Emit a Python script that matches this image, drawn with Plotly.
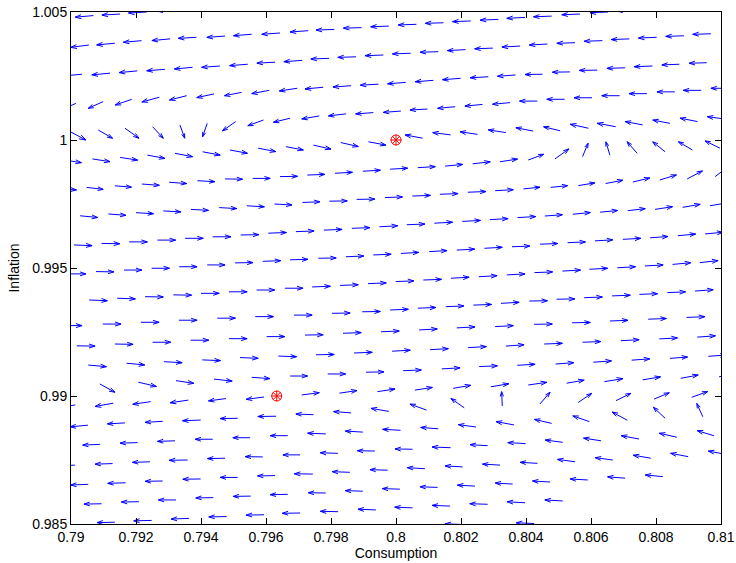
import plotly.graph_objects as go

# ---------------- data ----------------
x_ticks = [0.79, 0.792, 0.794, 0.796, 0.798, 0.8, 0.802, 0.804, 0.806, 0.808, 0.81]
x_tick_labels = ["0.79", "0.792", "0.794", "0.796", "0.798", "0.8", "0.802", "0.804", "0.806", "0.808", "0.81"]
y_ticks = [0.985, 0.99, 0.995, 1.0, 1.005]
y_tick_labels = ["0.985", "0.99", "0.995", "1", "1.005"]

# steady states (red markers)
steady_c = [0.8, 0.79633]
steady_pi = [1.0, 0.99]

# arrow tails: consumption (one inner list per row of arrows)
arrow_c = [
    [0.79069, 0.79151, 0.79233, 0.79320],
    [0.79055, 0.79135, 0.79217, 0.79305, 0.79386, 0.79474, 0.79556, 0.79643, 0.79730, 0.79810, 0.79894, 0.79978, 0.80063, 0.80146, 0.80230, 0.80315, 0.80397, 0.80479, 0.80566, 0.80653, 0.80735],
    [0.79034, 0.79120, 0.79204, 0.79289, 0.79374, 0.79458, 0.79544, 0.79628, 0.79711, 0.79794, 0.79877, 0.79961, 0.80045, 0.80130, 0.80214, 0.80298, 0.80382, 0.80466, 0.80551, 0.80635, 0.80718, 0.80802, 0.80886, 0.80969],
    [0.79015, 0.79099, 0.79187, 0.79272, 0.79356, 0.79440, 0.79525, 0.79610, 0.79696, 0.79776, 0.79862, 0.79946, 0.80030, 0.80115, 0.80199, 0.80284, 0.80368, 0.80451, 0.80535, 0.80619, 0.80705, 0.80789, 0.80872, 0.80956],
    [0.78991, 0.79084, 0.79166, 0.79251, 0.79335, 0.79419, 0.79507, 0.79592, 0.79674, 0.79764, 0.79846, 0.79930, 0.80015, 0.80097, 0.80182, 0.80266, 0.80351, 0.80435, 0.80519, 0.80603, 0.80688, 0.80772, 0.80858, 0.80939, 0.81024],
    [0.78978, 0.79066, 0.79151, 0.79235, 0.79320, 0.79405, 0.79489, 0.79576, 0.79661, 0.79746, 0.79830, 0.79915, 0.80082, 0.80168, 0.80251, 0.80338, 0.80422, 0.80505, 0.80592, 0.80676, 0.80759, 0.80843, 0.80928, 0.81012],
    [0.78963, 0.79048, 0.79135, 0.79218, 0.79302, 0.79389, 0.79474, 0.79559, 0.79643, 0.79727, 0.79812, 0.79898, 0.79982, 0.80067, 0.80151, 0.80236, 0.80320, 0.80407, 0.80489, 0.80574, 0.80658, 0.80742, 0.80828, 0.80912, 0.80997],
    [0.79028, 0.79115, 0.79200, 0.79284, 0.79369, 0.79456, 0.79541, 0.79626, 0.79712, 0.79795, 0.79879, 0.79966, 0.80050, 0.80135, 0.80221, 0.80305, 0.80392, 0.80476, 0.80561, 0.80645, 0.80729, 0.80812, 0.80896, 0.80982],
    [0.79009, 0.79094, 0.79179, 0.79266, 0.79351, 0.79436, 0.79522, 0.79607, 0.79692, 0.79778, 0.79864, 0.79949, 0.80033, 0.80118, 0.80204, 0.80289, 0.80374, 0.80458, 0.80544, 0.80628, 0.80713, 0.80797, 0.80882, 0.80966],
    [0.78991, 0.79077, 0.79163, 0.79248, 0.79333, 0.79419, 0.79505, 0.79590, 0.79674, 0.79761, 0.79846, 0.79930, 0.80015, 0.80102, 0.80187, 0.80272, 0.80357, 0.80443, 0.80528, 0.80612, 0.80698, 0.80782, 0.80867, 0.80951],
    [0.79056, 0.79142, 0.79228, 0.79315, 0.79400, 0.79486, 0.79571, 0.79658, 0.79742, 0.79828, 0.79914, 0.79999, 0.80084, 0.80169, 0.80255, 0.80341, 0.80426, 0.80512, 0.80595, 0.80681, 0.80766, 0.80851, 0.80935],
    [0.78978, 0.79098, 0.79215, 0.79332, 0.79450, 0.79567, 0.79686, 0.79803, 0.79896, 0.79982, 0.80067, 0.80153, 0.80238, 0.80323, 0.80410, 0.80494, 0.80579, 0.80665, 0.80749, 0.80835, 0.80920],
    [0.79018, 0.79135, 0.79251, 0.79368, 0.79486, 0.79602, 0.79720, 0.79837, 0.79954, 0.80071, 0.80187, 0.80305, 0.80425, 0.80542, 0.80658, 0.80776, 0.80894],
    [0.79053, 0.79171, 0.79286, 0.79404, 0.79520, 0.79638, 0.79754, 0.79871, 0.79988, 0.80105, 0.80222, 0.80338, 0.80456, 0.80574, 0.80692, 0.80810, 0.80927],
    [0.79089, 0.79207, 0.79323, 0.79440, 0.79556, 0.79674, 0.79790, 0.79908, 0.80022, 0.80141, 0.80256, 0.80373, 0.80491, 0.80607, 0.80725, 0.80843, 0.80961],
    [0.79013, 0.79130, 0.79245, 0.79361, 0.79477, 0.79594, 0.79710, 0.79826, 0.79943, 0.80058, 0.80176, 0.80292, 0.80407, 0.80525, 0.80641, 0.80759, 0.80876, 0.80994],
    [0.79052, 0.79166, 0.79282, 0.79399, 0.79513, 0.79631, 0.79746, 0.79862, 0.79978, 0.80094, 0.80210, 0.80327, 0.80443, 0.80561, 0.80677, 0.80794, 0.80910],
    [0.79089, 0.79205, 0.79320, 0.79436, 0.79551, 0.79667, 0.79784, 0.79898, 0.80014, 0.80130, 0.80246, 0.80363, 0.80479, 0.80595, 0.80712, 0.80828, 0.80944],
    [0.79012, 0.79128, 0.79243, 0.79359, 0.79474, 0.79590, 0.79705, 0.79821, 0.79935, 0.80051, 0.80168, 0.80282, 0.80399, 0.80513, 0.80631, 0.80748, 0.80864, 0.80978],
    [0.79053, 0.79168, 0.79282, 0.79399, 0.79513, 0.79628, 0.79744, 0.79858, 0.79974, 0.80089, 0.80205, 0.80320, 0.80435, 0.80551, 0.80667, 0.80784, 0.80899, 0.81015],
    [0.79094, 0.79209, 0.79323, 0.79438, 0.79553, 0.79667, 0.79784, 0.79898, 0.80012, 0.80128, 0.80243, 0.80359, 0.80474, 0.80590, 0.80705, 0.80821],
    [0.79135, 0.79248, 0.79363, 0.79479, 0.79594, 0.79705, 0.79822, 0.79938, 0.80051, 0.80166, 0.80282, 0.80397, 0.80513],
    [0.80206, 0.80425],
]

# arrow tails: inflation
arrow_pi = [
    [1.00486, 1.00492, 1.00500, 1.00508],
    [1.00371, 1.00378, 1.00388, 1.00395, 1.00401, 1.00406, 1.00413, 1.00418, 1.00427, 1.00432, 1.00439, 1.00445, 1.00452, 1.00458, 1.00465, 1.00471, 1.00479, 1.00484, 1.00492, 1.00500, 1.00507],
    [1.00257, 1.00261, 1.00270, 1.00276, 1.00284, 1.00289, 1.00296, 1.00304, 1.00311, 1.00319, 1.00325, 1.00332, 1.00339, 1.00345, 1.00353, 1.00359, 1.00367, 1.00375, 1.00380, 1.00388, 1.00395, 1.00401, 1.00407, 1.00415],
    [1.00143, 1.00150, 1.00159, 1.00167, 1.00173, 1.00180, 1.00186, 1.00194, 1.00202, 1.00206, 1.00212, 1.00218, 1.00225, 1.00233, 1.00241, 1.00247, 1.00254, 1.00257, 1.00266, 1.00273, 1.00282, 1.00289, 1.00296, 1.00302],
    [1.00037, 1.00039, 1.00046, 1.00052, 1.00059, 1.00065, 1.00072, 1.00078, 1.00085, 1.00094, 1.00102, 1.00107, 1.00113, 1.00121, 1.00130, 1.00139, 1.00146, 1.00152, 1.00159, 1.00165, 1.00173, 1.00181, 1.00188, 1.00194, 1.00202],
    [0.99922, 0.99926, 0.99932, 0.99941, 0.99948, 0.99954, 0.99961, 0.99968, 0.99974, 0.99980, 0.99990, 0.99993, 1.00007, 1.00020, 1.00022, 1.00029, 1.00035, 1.00036, 1.00046, 1.00052, 1.00059, 1.00065, 1.00072, 1.00082],
    [0.99809, 0.99815, 0.99821, 0.99828, 0.99835, 0.99841, 0.99848, 0.99850, 0.99857, 0.99863, 0.99870, 0.99878, 0.99886, 0.99892, 0.99898, 0.99907, 0.99915, 0.99922, 0.99926, 0.99935, 0.99941, 0.99948, 0.99954, 0.99961, 0.99968],
    [0.99704, 0.99711, 0.99716, 0.99723, 0.99729, 0.99736, 0.99743, 0.99750, 0.99756, 0.99761, 0.99768, 0.99775, 0.99781, 0.99788, 0.99796, 0.99802, 0.99809, 0.99815, 0.99822, 0.99830, 0.99836, 0.99844, 0.99848, 0.99857],
    [0.99590, 0.99596, 0.99602, 0.99609, 0.99616, 0.99622, 0.99629, 0.99636, 0.99642, 0.99648, 0.99655, 0.99661, 0.99669, 0.99675, 0.99682, 0.99689, 0.99697, 0.99703, 0.99710, 0.99718, 0.99724, 0.99729, 0.99737, 0.99743],
    [0.99477, 0.99486, 0.99492, 0.99499, 0.99505, 0.99512, 0.99520, 0.99526, 0.99532, 0.99538, 0.99544, 0.99551, 0.99557, 0.99564, 0.99570, 0.99577, 0.99583, 0.99593, 0.99599, 0.99606, 0.99612, 0.99618, 0.99626, 0.99633],
    [0.99375, 0.99382, 0.99388, 0.99395, 0.99401, 0.99407, 0.99414, 0.99421, 0.99426, 0.99432, 0.99439, 0.99447, 0.99453, 0.99460, 0.99466, 0.99473, 0.99482, 0.99488, 0.99495, 0.99501, 0.99508, 0.99514, 0.99521],
    [0.99275, 0.99281, 0.99288, 0.99296, 0.99304, 0.99310, 0.99316, 0.99323, 0.99329, 0.99336, 0.99343, 0.99349, 0.99355, 0.99362, 0.99371, 0.99378, 0.99384, 0.99391, 0.99397, 0.99404, 0.99410],
    [0.99196, 0.99203, 0.99210, 0.99218, 0.99224, 0.99232, 0.99238, 0.99245, 0.99251, 0.99258, 0.99266, 0.99271, 0.99280, 0.99286, 0.99293, 0.99300, 0.99307],
    [0.99121, 0.99128, 0.99134, 0.99141, 0.99150, 0.99156, 0.99161, 0.99168, 0.99175, 0.99181, 0.99189, 0.99195, 0.99203, 0.99210, 0.99216, 0.99223, 0.99230],
    [0.99047, 0.99054, 0.99060, 0.99066, 0.99073, 0.99078, 0.99086, 0.99093, 0.99099, 0.99106, 0.99115, 0.99120, 0.99125, 0.99132, 0.99140, 0.99147, 0.99155],
    [0.98965, 0.98972, 0.98978, 0.98984, 0.98990, 0.98996, 0.99004, 0.99011, 0.99017, 0.99023, 0.99030, 0.99036, 0.99043, 0.99050, 0.99056, 0.99063, 0.99069, 0.99075],
    [0.98886, 0.98895, 0.98901, 0.98906, 0.98913, 0.98921, 0.98927, 0.98934, 0.98940, 0.98945, 0.98954, 0.98961, 0.98969, 0.98975, 0.98982, 0.98988, 0.98995],
    [0.98811, 0.98818, 0.98825, 0.98831, 0.98837, 0.98845, 0.98852, 0.98859, 0.98866, 0.98872, 0.98879, 0.98887, 0.98893, 0.98900, 0.98905, 0.98913, 0.98919],
    [0.98730, 0.98736, 0.98743, 0.98750, 0.98757, 0.98762, 0.98770, 0.98776, 0.98785, 0.98792, 0.98798, 0.98806, 0.98814, 0.98819, 0.98825, 0.98832, 0.98839, 0.98845],
    [0.98655, 0.98661, 0.98668, 0.98676, 0.98682, 0.98689, 0.98695, 0.98702, 0.98710, 0.98716, 0.98723, 0.98730, 0.98737, 0.98743, 0.98750, 0.98757, 0.98763, 0.98772],
    [0.98579, 0.98587, 0.98594, 0.98603, 0.98609, 0.98616, 0.98621, 0.98628, 0.98636, 0.98643, 0.98648, 0.98656, 0.98664, 0.98672, 0.98679, 0.98685],
    [0.98507, 0.98514, 0.98522, 0.98529, 0.98536, 0.98543, 0.98548, 0.98555, 0.98563, 0.98570, 0.98577, 0.98583, 0.98590],
    [0.98498, 0.98502],
]

# arrow components: change in consumption
arrow_dc = [
    [-0.00056, -0.00056, -0.00056, -0.00056],
    [-0.00056, -0.00056, -0.00056, -0.00056, -0.00056, -0.00056, -0.00056, -0.00056, -0.00056, -0.00056, -0.00056, -0.00056, -0.00056, -0.00056, -0.00056, -0.00056, -0.00056, -0.00056, -0.00056, -0.00056, -0.00056],
    [-0.00056, -0.00056, -0.00056, -0.00056, -0.00056, -0.00056, -0.00056, -0.00056, -0.00056, -0.00056, -0.00056, -0.00056, -0.00056, -0.00056, -0.00056, -0.00056, -0.00056, -0.00056, -0.00056, -0.00056, -0.00056, -0.00056, -0.00056, -0.00056],
    [-0.00049, -0.00046, -0.00051, -0.00054, -0.00053, -0.00053, -0.00053, -0.00054, -0.00055, -0.00056, -0.00056, -0.00056, -0.00056, -0.00056, -0.00056, -0.00056, -0.00056, -0.00054, -0.00054, -0.00055, -0.00056, -0.00056, -0.00054, -0.00054],
    [0.00055, 0.00044, 0.00043, 0.00033, 0.00015, -0.00014, -0.00041, -0.00048, -0.00051, -0.00054, -0.00054, -0.00054, -0.00054, -0.00054, -0.00054, -0.00054, -0.00054, -0.00055, -0.00055, -0.00055, -0.00055, -0.00055, -0.00055, -0.00055, -0.00055],
    [0.00054, 0.00054, 0.00054, 0.00054, 0.00054, 0.00054, 0.00054, 0.00054, 0.00054, 0.00054, 0.00054, 0.00054, -0.00054, -0.00055, -0.00054, -0.00054, -0.00053, -0.00051, -0.00056, -0.00057, -0.00054, -0.00053, -0.00054, -0.00054],
    [0.00054, 0.00051, 0.00051, 0.00054, 0.00054, 0.00054, 0.00054, 0.00054, 0.00054, 0.00054, 0.00054, 0.00054, 0.00054, 0.00054, 0.00054, 0.00054, 0.00054, 0.00048, 0.00043, 0.00017, -0.00012, -0.00031, -0.00038, -0.00043, -0.00046],
    [0.00054, 0.00054, 0.00054, 0.00054, 0.00054, 0.00054, 0.00054, 0.00054, 0.00054, 0.00055, 0.00056, 0.00054, 0.00056, 0.00056, 0.00056, 0.00056, 0.00051, 0.00052, 0.00051, 0.00053, 0.00052, 0.00051, 0.00047, 0.00040],
    [0.00056, 0.00056, 0.00056, 0.00056, 0.00056, 0.00056, 0.00056, 0.00056, 0.00056, 0.00056, 0.00056, 0.00056, 0.00056, 0.00056, 0.00056, 0.00056, 0.00056, 0.00054, 0.00054, 0.00054, 0.00054, 0.00054, 0.00054, 0.00054],
    [0.00055, 0.00055, 0.00055, 0.00055, 0.00055, 0.00055, 0.00055, 0.00055, 0.00055, 0.00055, 0.00055, 0.00055, 0.00055, 0.00055, 0.00055, 0.00055, 0.00055, 0.00055, 0.00055, 0.00055, 0.00055, 0.00055, 0.00055, 0.00055],
    [0.00056, 0.00056, 0.00056, 0.00056, 0.00056, 0.00056, 0.00056, 0.00056, 0.00056, 0.00056, 0.00056, 0.00056, 0.00056, 0.00056, 0.00056, 0.00056, 0.00056, 0.00056, 0.00056, 0.00056, 0.00056, 0.00056, 0.00056],
    [0.00056, 0.00056, 0.00056, 0.00056, 0.00056, 0.00056, 0.00056, 0.00056, 0.00056, 0.00056, 0.00056, 0.00056, 0.00056, 0.00056, 0.00056, 0.00056, 0.00056, 0.00056, 0.00056, 0.00056, 0.00056],
    [0.00056, 0.00056, 0.00056, 0.00056, 0.00056, 0.00056, 0.00056, 0.00056, 0.00056, 0.00056, 0.00056, 0.00056, 0.00056, 0.00056, 0.00056, 0.00056, 0.00056],
    [0.00056, 0.00056, 0.00056, 0.00056, 0.00056, 0.00056, 0.00056, 0.00056, 0.00056, 0.00056, 0.00056, 0.00056, 0.00056, 0.00056, 0.00056, 0.00056, 0.00056],
    [0.00046, 0.00056, 0.00055, 0.00056, 0.00056, 0.00054, 0.00055, 0.00055, 0.00056, 0.00056, 0.00056, 0.00055, 0.00056, 0.00056, 0.00056, 0.00054, 0.00055],
    [-0.00055, -0.00056, -0.00055, -0.00056, -0.00054, -0.00055, 0.00054, 0.00054, 0.00054, 0.00054, 0.00054, 0.00055, 0.00057, 0.00054, 0.00057, 0.00055, 0.00054, 0.00054],
    [-0.00055, -0.00054, -0.00054, -0.00056, -0.00054, -0.00056, -0.00054, -0.00054, -0.00055, -0.00051, -0.00041, -0.00002, 0.00031, 0.00041, 0.00046, 0.00047, 0.00049],
    [-0.00053, -0.00054, -0.00054, -0.00054, -0.00053, -0.00054, -0.00056, -0.00054, -0.00055, -0.00054, -0.00054, -0.00055, -0.00053, -0.00051, -0.00047, -0.00036, -0.000185],
    [-0.00055, -0.00054, -0.00054, -0.00057, -0.00054, -0.00054, -0.00053, -0.00054, -0.00054, -0.00054, -0.00057, -0.00054, -0.00055, -0.00054, -0.00054, -0.00055, -0.00054, -0.00051],
    [-0.00054, -0.00055, -0.00054, -0.00055, -0.00054, -0.00054, -0.00057, -0.00054, -0.00054, -0.00054, -0.00054, -0.00054, -0.00053, -0.00054, -0.00054, -0.00054, -0.00054, -0.00054],
    [-0.00054, -0.00054, -0.00054, -0.00054, -0.00054, -0.00054, -0.00054, -0.00054, -0.00054, -0.00054, -0.00054, -0.00054, -0.00054, -0.00054, -0.00054, -0.00054],
    [-0.00055, -0.00055, -0.00055, -0.00055, -0.00055, -0.00055, -0.00055, -0.00055, -0.00055, -0.00055, -0.00055, -0.00055, -0.00055],
    [-0.00055, -0.00055],
]

# arrow components: change in inflation
arrow_dpi = [
    [-0.000063, -0.000039, -0.000039, -0.000039],
    [-0.00009, -0.000066, -0.000063, -0.000066, -0.000039, -0.000051, -0.000055, -0.000051, -0.000051, -0.000027, -0.000023, -0.000027, -0.000027, -0.000023, -0.000027, -0.000027, -0.000039, -0.000027, -0.000027, -0.000027, -0.000027],
    [-0.000066, -0.000066, -0.000066, -0.000055, -0.000066, -0.000051, -0.000055, -0.000039, -0.000051, -0.000027, -0.000023, -0.000027, -0.000027, -0.000023, -0.000039, -0.000027, -0.000039, -0.000039, -0.000023, -0.000023, -0.000027, -0.000027, -0.000023, -0.000023],
    [-0.000273, -0.000262, -0.000223, -0.000184, -0.000168, -0.000145, -0.000129, -0.000129, -0.000105, -0.000066, -0.000051, -0.000039, -0.000055, -0.000055, -0.000055, -0.000039, -0.000051, -0.000012, -0.000012, -0.000012, -0.000023, -0.000027, -0.000027, -0.000023],
    [-0.000371, -0.000324, -0.000391, -0.000453, -0.00052, -0.000523, -0.000363, -0.000223, -0.000156, -0.000117, -0.000078, -0.000051, -0.000051, -0.000039, -0.000063, -0.000066, -0.000063, 0.0, 0.0, 0.0, 0.0, 0.0, 0.0, 0.0, 0.0],
    [-0.000105, -0.000105, -0.000105, -0.000129, -0.000133, -0.000129, -0.000129, -0.000133, -0.000129, -0.000156, -0.000156, -0.000129, 0.000129, 0.00009, 0.000102, 0.000105, 0.000129, 0.000156, 0.000156, 0.000133, 0.000129, 0.000129, 0.000133, 0.00009],
    [-0.000039, -0.000078, -0.000051, -0.000051, -0.000051, -0.000039, -0.000012, 0.0, 0.000012, 0.000027, 0.000039, 0.000039, 0.000039, 0.000039, 0.000066, 0.000078, 0.000105, 0.000223, 0.000391, 0.000523, 0.00052, 0.000453, 0.000391, 0.000324, 0.000285],
    [-0.000066, -0.000051, -0.000039, -0.000039, -0.000039, -0.000039, -0.000039, -0.000039, 0.000027, 0.000012, 0.000012, 0.000027, 0.000027, 0.000027, 0.000027, 0.000039, 0.000066, 0.000066, 0.000105, 0.000129, 0.000156, 0.000195, 0.000313, 0.000391],
    [-0.000027, -0.000012, 0.0, 0.0, 0.0, 0.0, 0.000012, 0.000027, 0.000027, 0.000027, 0.000027, 0.000039, 0.000027, 0.000039, 0.000039, 0.000039, 0.000039, 0.000051, 0.000066, 0.000066, 0.000078, 0.000105, 0.000117, 0.000117],
    [0.0, -0.000012, 0.0, 0.0, 0.0, 0.0, 0.000012, 0.000027, 0.00002, 0.000012, 0.000027, 0.000027, 0.000039, 0.000039, 0.000039, 0.000039, 0.000027, 0.000027, 0.000027, 0.000039, 0.000039, 0.000051, 0.000066, 0.000066],
    [-0.000027, -0.000027, -0.000012, -0.000012, 0.0, 0.0, 0.0, 0.0, 0.000027, 0.000027, 0.000027, 0.000027, 0.000027, 0.000039, 0.000039, 0.000039, 0.000027, 0.000039, 0.000039, 0.000039, 0.000039, 0.000066, 0.000078],
    [0.0, 0.0, 0.0, 0.0, 0.0, 0.0, 0.0, 0.000012, 0.000012, 0.000027, 0.000027, 0.000027, 0.000027, 0.000039, 0.000012, 0.000012, 0.000027, 0.000027, 0.000027, 0.000027, 0.000051],
    [-0.000012, -0.000012, 0.0, 0.0, 0.0, 0.0, 0.000012, 0.000027, 0.000027, 0.000039, 0.000039, 0.000039, 0.000012, 0.000012, 0.000027, 0.000027, 0.000027],
    [-0.000066, -0.000066, -0.000039, -0.000027, -0.000027, -0.000027, 0.000012, 0.000027, 0.000039, 0.000039, 0.000039, 0.000051, 0.000027, 0.000027, 0.000039, 0.000039, 0.000051],
    [-0.000324, -0.000168, -0.000105, -0.000078, -0.000051, 0.0, 0.0, 0.000012, 0.000027, 0.000039, 0.000027, 0.000039, 0.000051, 0.000051, 0.000051, 0.000051, 0.000051],
    [-0.000117, -0.000129, -0.000105, -0.000105, -0.00009, -0.00009, 0.00009, 0.000102, 0.000105, 0.000105, 0.000117, 0.000117, 0.000105, 0.000117, 0.000117, 0.000117, 0.000129, 0.000129],
    [-0.000066, -0.000039, -0.000039, -0.000027, -0.000012, -0.000012, 0.000027, 0.000051, 0.000117, 0.000234, 0.000363, 0.000559, 0.000457, 0.000352, 0.000285, 0.000246, 0.000223],
    [-0.000027, -0.000023, -0.000023, 0.0, 0.0, 0.0, 0.000027, 0.000039, 0.000039, 0.000051, 0.00009, 0.000129, 0.000156, 0.000223, 0.000324, 0.00043, 0.00052],
    [-0.000039, -0.000023, -0.000023, -0.000012, -0.000016, 0.000012, 0.0, 0.000023, 0.000012, 0.000012, 0.000027, 0.000039, 0.000039, 0.00009, 0.000105, 0.000129, 0.000156, 0.000195],
    [-0.000027, -0.000023, -0.000012, -0.000012, 0.0, -0.000012, 0.000012, 0.000023, 0.000023, 0.000039, 0.000039, 0.000039, 0.000039, 0.000094, 0.00009, 0.000117, 0.000133, 0.000129],
    [-0.000012, -0.000012, 0.0, -0.000012, -0.000012, -0.000016, 0.000012, 0.000023, 0.000023, 0.000023, 0.000039, 0.000039, 0.000039, 0.000039, 0.000051, 0.000066],
    [-0.000016, -0.000016, -0.000027, -0.000012, -0.000012, -0.000012, 0.000016, 0.000027, 0.000027, 0.000027, 0.000023, 0.000039, 0.000039],
    [0.000027, 0.000027],
]

# ---------------- figure ----------------
X_RANGE = [0.79, 0.81]
Y_RANGE = [0.985, 1.005]
W, H = 736, 563
M = dict(l=71, r=15, t=12, b=39)
SX = (W - M["l"] - M["r"]) / (X_RANGE[1] - X_RANGE[0])   # px per unit
SY = (H - M["t"] - M["b"]) / (Y_RANGE[1] - Y_RANGE[0])

for i, (a, b, c, d) in enumerate(zip(arrow_c, arrow_pi, arrow_dc, arrow_dpi)):
    assert len(a) == len(b) == len(c) == len(d), (i, len(a), len(b), len(c), len(d))

ALPHA, BETA = 0.33, 0.33  # MATLAB quiver arrowhead proportions
xs, ys = [], []
for rc, rp, rdc, rdp in zip(arrow_c, arrow_pi, arrow_dc, arrow_dpi):
    for c0, p0, dc, dp in zip(rc, rp, rdc, rdp):
        c1, p1 = c0 + dc, p0 + dp
        xs += [c0, c1, None]
        ys += [p0, p1, None]
        U, V = dc * SX, dp * SY
        h1x = -ALPHA * (U + BETA * V) / SX
        h1y = -ALPHA * (V - BETA * U) / SY
        h2x = -ALPHA * (U - BETA * V) / SX
        h2y = -ALPHA * (V + BETA * U) / SY
        xs += [c1 + h1x, c1, c1 + h2x, None]
        ys += [p1 + h1y, p1, p1 + h2y, None]

fig = go.Figure()
fig.add_trace(go.Scatter(x=xs, y=ys, mode="lines",
                         line=dict(color="rgb(0,0,255)", width=1),
                         hoverinfo="skip", showlegend=False))
fig.add_trace(go.Scatter(x=steady_c, y=steady_pi, mode="markers",
                         marker=dict(symbol="circle-open", size=10, color="red",
                                     line=dict(color="red", width=1)),
                         hoverinfo="skip", showlegend=False))
fig.add_trace(go.Scatter(x=steady_c, y=steady_pi, mode="markers",
                         marker=dict(symbol="asterisk-open", size=9, color="red",
                                     line=dict(color="red", width=1)),
                         hoverinfo="skip", showlegend=False))

FONT = "Liberation Sans, Arial, Helvetica, sans-serif"
axis_common = dict(showgrid=False, zeroline=False, showline=True, linecolor="black",
                   linewidth=1, mirror="ticks", ticks="inside", ticklen=6,
                   tickcolor="black", tickwidth=1, automargin=False,
                   tickfont=dict(family=FONT, size=14, color="black"))

fig.update_layout(
    width=W, height=H, margin=M,
    paper_bgcolor="white", plot_bgcolor="white",
    font=dict(family=FONT, size=14, color="black"),
    xaxis=dict(range=X_RANGE, tickvals=x_ticks, ticktext=x_tick_labels,
               title=dict(text="Consumption", font=dict(family=FONT, size=14, color="black"),
                          standoff=4),
               **axis_common),
    yaxis=dict(range=Y_RANGE, tickvals=y_ticks, ticktext=y_tick_labels,
               title=dict(text="Inflation", font=dict(family=FONT, size=14, color="black"),
                          standoff=9),
               **axis_common),
)

fig.write_html("out.html",
               config={"displayModeBar": False, "staticPlot": True},
               post_script="document.body.style.margin='0px';document.body.style.overflow='hidden';")
